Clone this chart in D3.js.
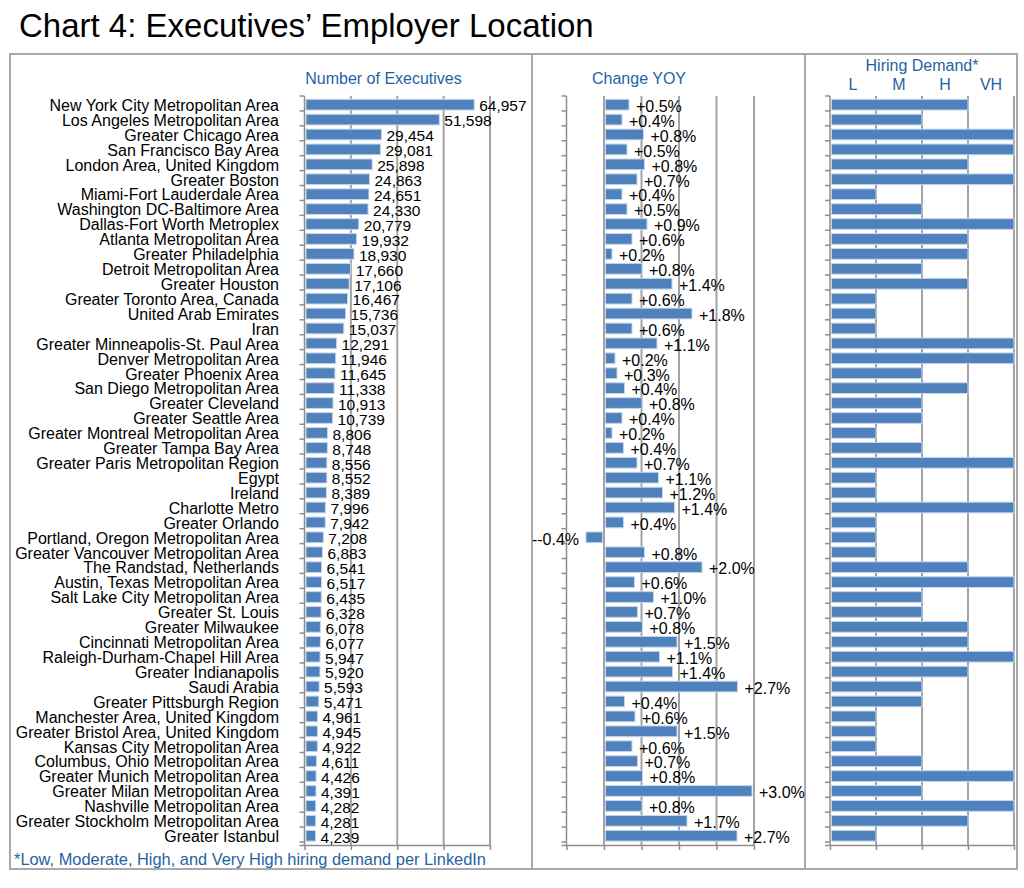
<!DOCTYPE html>
<html>
<head>
<meta charset="utf-8">
<script src="https://cdn.jsdelivr.net/npm/d3@7"></script>
<style>
  html, body { margin: 0; padding: 0; background: #fff; }
  svg text { font-family: "Liberation Sans", Arial, Helvetica, sans-serif; }
</style>
</head>
<body>
<svg id="chart" width="1024" height="888"></svg>
<script>
const categories = [
  "New York City Metropolitan Area", "Los Angeles Metropolitan Area", "Greater Chicago Area",
  "San Francisco Bay Area", "London Area, United Kingdom", "Greater Boston",
  "Miami-Fort Lauderdale Area", "Washington DC-Baltimore Area", "Dallas-Fort Worth Metroplex",
  "Atlanta Metropolitan Area", "Greater Philadelphia", "Detroit Metropolitan Area",
  "Greater Houston", "Greater Toronto Area, Canada", "United Arab Emirates", "Iran",
  "Greater Minneapolis-St. Paul Area", "Denver Metropolitan Area", "Greater Phoenix Area",
  "San Diego Metropolitan Area", "Greater Cleveland", "Greater Seattle Area",
  "Greater Montreal Metropolitan Area", "Greater Tampa Bay Area", "Greater Paris Metropolitan Region",
  "Egypt", "Ireland", "Charlotte Metro", "Greater Orlando", "Portland, Oregon Metropolitan Area",
  "Greater Vancouver Metropolitan Area", "The Randstad, Netherlands", "Austin, Texas Metropolitan Area",
  "Salt Lake City Metropolitan Area", "Greater St. Louis", "Greater Milwaukee",
  "Cincinnati Metropolitan Area", "Raleigh-Durham-Chapel Hill Area", "Greater Indianapolis",
  "Saudi Arabia", "Greater Pittsburgh Region", "Manchester Area, United Kingdom",
  "Greater Bristol Area, United Kingdom", "Kansas City Metropolitan Area", "Columbus, Ohio Metropolitan Area",
  "Greater Munich Metropolitan Area", "Greater Milan Metropolitan Area", "Nashville Metropolitan Area",
  "Greater Stockholm Metropolitan Area", "Greater Istanbul"
];
const executives = [64957, 51598, 29454, 29081, 25898, 24863, 24651, 24330, 20779, 19932,
  18930, 17660, 17106, 16467, 15736, 15037, 12291, 11946, 11645, 11338,
  10913, 10739, 8806, 8748, 8556, 8552, 8389, 7996, 7942, 7208,
  6883, 6541, 6517, 6435, 6328, 6078, 6077, 5947, 5920, 5593,
  5471, 4961, 4945, 4922, 4611, 4426, 4391, 4282, 4281, 4239];
const yoyChange = [0.50, 0.36, 0.79, 0.46, 0.81, 0.66, 0.36, 0.46, 0.86, 0.56,
  0.16, 0.76, 1.36, 0.56, 1.76, 0.56, 1.06, 0.22, 0.26, 0.41,
  0.76, 0.36, 0.16, 0.39, 0.66, 1.09, 1.17, 1.41, 0.39, -0.36,
  0.81, 1.96, 0.61, 0.99, 0.67, 0.77, 1.46, 1.11, 1.37, 2.67,
  0.41, 0.62, 1.46, 0.56, 0.67, 0.77, 2.96, 0.76, 1.66, 2.66];
const hiringDemand = [3, 2, 4, 4, 3, 4, 1, 2, 4, 3,
  3, 2, 3, 1, 1, 1, 4, 4, 2, 3,
  2, 2, 1, 2, 4, 1, 1, 4, 1, 1,
  1, 3, 4, 2, 2, 3, 3, 4, 3, 2,
  2, 1, 1, 1, 2, 4, 2, 4, 3, 1];
const demandLevels = ["L", "M", "H", "VH"];
const execTicks = [0, 17750, 35500, 53250, 71000];
const yoyTicks = [-0.75, 0, 0.75, 1.5, 2.25, 3.0];
const demandTicks = [0, 1, 2, 3, 4];

const titleText = "Chart 4: Executives\u2019 Employer Location";
const footnoteText = "*Low, Moderate, High, and Very High hiring demand per LinkedIn";

const BLUE = "#4F81BD", BAR_EDGE = "#c5d6ec", GRID = "#a3a3a3", AXIS = "#8e8e8e", HEAD = "#1f63a3";

const svg = d3.select("#chart");

const y = d3.scaleBand().domain(categories).range([96, 842]).padding(0);
const AXIS_BOTTOM = 845;
const xl = d3.scaleLinear().domain([0, 71000]).range([304.5, 490]);
const xm = d3.scaleLinear().domain([-0.75, 3.0]).range([566.5, 754]);
const xh = d3.scaleLinear().domain([0, 4]).range([830, 1014]);

const rows = categories.map((c, i) => ({ c, e: executives[i], v: yoyChange[i], h: hiringDemand[i] }));

// Title
svg.append("text").attr("x", 19).attr("y", 37).attr("font-size", 33).attr("fill", "#000").text(titleText);

// Panel frames
const frames = [[10, 532], [532, 805], [805, 1017]];
svg.selectAll("rect.frame").data(frames).join("rect").attr("class", "frame")
  .attr("x", d => d[0]).attr("y", 54).attr("width", d => d[1] - d[0]).attr("height", 815)
  .attr("fill", "none").attr("stroke", "#a9a9a9").attr("stroke-width", 2);

function panel(xs, gridVals, axisVal, values, bottomTicks) {
  const g = svg.append("g");
  const top = y.range()[0];
  // gridlines
  g.selectAll("line.grid").data(gridVals).join("line")
    .attr("x1", d => xs(d)).attr("x2", d => xs(d)).attr("y1", top).attr("y2", AXIS_BOTTOM)
    .attr("stroke", GRID).attr("stroke-width", 2);
  // bars
  const x0 = xs(0);
  g.selectAll("rect.bar").data(rows).join("rect")
    .attr("x", d => { const v = values(d); return v >= 0 ? x0 + 1.5 : xs(v); })
    .attr("width", d => { const v = values(d); return Math.max(0.5, Math.abs(xs(v) - x0) - 1.5); })
    .attr("y", d => y(d.c) + 3.3).attr("height", y.bandwidth() - 4.2)
    .attr("fill", BLUE).attr("stroke", BAR_EDGE).attr("stroke-width", 1);
  // category axis (no labels), ticks at band boundaries
  const ax = xs(axisVal);
  const ga = g.append("g").attr("transform", `translate(${ax},0)`);
  ga.append("line").attr("x1", 0).attr("x2", 0).attr("y1", top).attr("y2", AXIS_BOTTOM);
  ga.selectAll("line.tk").data(categories).join("line").attr("class", "tk")
    .attr("x1", -5).attr("x2", 0).attr("y1", d => y(d)).attr("y2", d => y(d));
  ga.append("line").attr("x1", -5).attr("x2", 0).attr("y1", y.range()[1]).attr("y2", y.range()[1]);
  ga.selectAll("line").attr("stroke", AXIS).attr("stroke-width", 1.5);
  // bottom axis
  const xAxis = d3.axisBottom(xs).tickValues(bottomTicks).tickSize(5).tickFormat("").tickSizeOuter(0);
  const gb = g.append("g").attr("transform", `translate(0,${AXIS_BOTTOM})`).call(xAxis);
  gb.select(".domain").attr("d", `M${ax - 5},0.5H${xs.range()[1] + 1}`);
  gb.selectAll("line").attr("stroke", AXIS).attr("stroke-width", 1.5);
  gb.select(".domain").attr("stroke", AXIS).attr("stroke-width", 1.5);
  return g;
}

// Left panel: number of executives
const gL = panel(xl, execTicks.slice(1), 0, d => d.e, execTicks);
svg.append("g").selectAll("text").data(rows).join("text")
  .attr("x", 279).attr("y", d => y(d.c) + y.bandwidth() / 2 + 7.5)
  .attr("text-anchor", "end").attr("font-size", 16).attr("fill", "#000").text(d => d.c);
gL.selectAll("text.val").data(rows).join("text").attr("class", "val")
  .attr("x", d => xl(d.e) + 5).attr("y", d => y(d.c) + y.bandwidth() / 2 + 8)
  .attr("font-size", 15.5).attr("fill", "#000").text(d => d3.format(",")(d.e));

// Middle panel: change YOY (label format mirrors the original: "+0.5%", "--0.4%")
const gM = panel(xm, yoyTicks.slice(1), -0.75, d => d.v, yoyTicks);
gM.selectAll("text.val").data(rows).join("text").attr("class", "val")
  .attr("x", d => d.v >= 0 ? xm(d.v) + 7 : xm(d.v) - 7)
  .attr("text-anchor", d => d.v >= 0 ? "start" : "end")
  .attr("y", d => y(d.c) + y.bandwidth() / 2 + 8.5)
  .attr("font-size", 16).attr("fill", "#000")
  .text(d => (d.v >= 0 ? "+" : "--") + Math.abs(d.v).toFixed(1) + "%");

// Right panel: hiring demand
const gH = panel(xh, demandTicks.slice(1), 0, d => d.h, demandTicks);
svg.append("g").selectAll("text").data(demandLevels).join("text")
  .attr("x", (d, i) => xh(i + 0.5)).attr("y", 90).attr("text-anchor", "middle")
  .attr("font-size", 16).attr("fill", HEAD).text(d => d);

// Headers
const headers = [
  { t: "Number of Executives", x: 383.5, y: 84 },
  { t: "Change YOY", x: 639, y: 83.5 },
  { t: "Hiring Demand*", x: 922, y: 71 }
];
svg.append("g").selectAll("text").data(headers).join("text")
  .attr("x", d => d.x).attr("y", d => d.y).attr("text-anchor", "middle")
  .attr("font-size", 16).attr("fill", HEAD).text(d => d.t);

// Footnote
svg.append("text").attr("x", 14).attr("y", 865).attr("font-size", 16.4).attr("fill", HEAD).text(footnoteText);
</script>
</body>
</html>
